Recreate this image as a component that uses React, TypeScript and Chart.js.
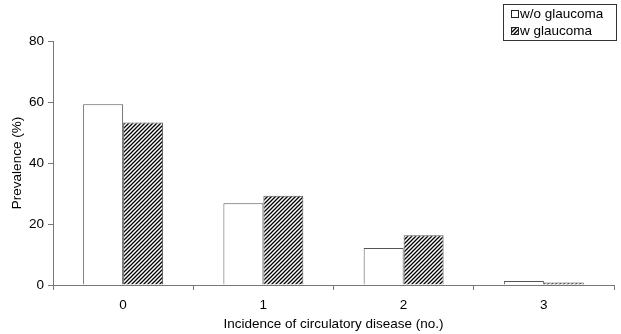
import React, { useEffect, useRef } from "react";
import { Chart, registerables } from "chart.js";

Chart.register(...registerables);

const categories = ["0", "1", "2", "3"];
const withoutGlaucoma = [59.3, 26.8, 12.1, 1.3];
const withGlaucoma = [53.3, 29.3, 16.3, 0.8];
const seriesLabels = ["w/o glaucoma", "w glaucoma"];
const yTicks = [0, 20, 40, 60, 80];

const FONT = "'Liberation Sans', Arial, sans-serif";
const FS = 13.5;

function makeHatch(): CanvasPattern | string {
  const c = document.createElement("canvas");
  c.width = 4;
  c.height = 4;
  const g = c.getContext("2d");
  if (!g) return "#555";
  g.fillStyle = "#fff";
  g.fillRect(0, 0, 4, 4);
  g.strokeStyle = "#000";
  g.lineWidth = 1.3;
  g.beginPath();
  g.moveTo(0, 4);
  g.lineTo(4, 0);
  g.moveTo(-1, 1);
  g.lineTo(1, -1);
  g.moveTo(3, 5);
  g.lineTo(5, 3);
  g.stroke();
  const p = g.createPattern(c, "repeat");
  return p || "#555";
}

export default function App() {
  const ref = useRef<HTMLCanvasElement | null>(null);
  useEffect(() => {
    if (!ref.current) return;
    const hatch = makeHatch();
    const legendPlugin = {
      id: "boxLegend",
      afterDraw(chart: any) {
        const ctx = chart.ctx as CanvasRenderingContext2D;
        ctx.save();
        ctx.fillStyle = "#fff";
        ctx.fillRect(503.5, 4.5, 113, 36);
        ctx.strokeStyle = "#333";
        ctx.lineWidth = 1;
        ctx.strokeRect(503.5, 4.5, 113, 36);
        const fills: any[] = ["#fff", hatch];
        ctx.font = `${FS}px ${FONT}`;
        ctx.textBaseline = "middle";
        seriesLabels.forEach((lab, i) => {
          const cy = 14 + i * 17;
          ctx.fillStyle = fills[i];
          ctx.fillRect(511.5, cy - 3.5, 7, 7);
          ctx.strokeStyle = "#222";
          ctx.strokeRect(511.5, cy - 3.5, 7, 7);
          ctx.fillStyle = "#000";
          ctx.fillText(lab, 520, cy + 0.5);
        });
        ctx.restore();
      },
    };
    const chart = new Chart(ref.current, {
      type: "bar",
      data: {
        labels: categories,
        datasets: [
          {
            label: seriesLabels[0],
            data: withoutGlaucoma,
            backgroundColor: "#fff",
            borderColor: "#555",
            borderWidth: 1,
          },
          {
            label: seriesLabels[1],
            data: withGlaucoma,
            backgroundColor: hatch as any,
            borderColor: "#555",
            borderWidth: 1,
          },
        ],
      },
      options: {
        animation: false,
        responsive: false,
        maintainAspectRatio: false,
        layout: { padding: { top: 41, right: 7, left: 0, bottom: 0 } },
        datasets: { bar: { categoryPercentage: 0.57, barPercentage: 1 } },
        plugins: { legend: { display: false }, tooltip: { enabled: false } },
        scales: {
          x: {
            grid: {
              offset: true,
              drawOnChartArea: false,
              drawTicks: true,
              tickLength: 5,
              color: "#777",
            },
            border: { color: "#777", width: 1 },
            ticks: { color: "#000", font: { family: FONT, size: FS }, padding: 7 },
            title: {
              display: true,
              text: "Incidence of circulatory disease (no.)",
              color: "#000",
              font: { family: FONT, size: FS },
              padding: { top: 0, bottom: 2 },
            },
            afterFit(scale: any) {
              scale.height = 49;
            },
          },
          y: {
            min: 0,
            max: 80,
            afterBuildTicks(scale: any) {
              scale.ticks = yTicks.map((v) => ({ value: v }));
            },
            grid: {
              drawOnChartArea: false,
              drawTicks: true,
              tickLength: 5,
              color: "#777",
            },
            border: { color: "#777", width: 1 },
            ticks: { color: "#000", font: { family: FONT, size: FS }, padding: 4 },
            title: {
              display: true,
              text: "Prevalence (%)",
              color: "#000",
              font: { family: FONT, size: FS },
              padding: { top: 9, bottom: 0 },
            },
            afterFit(scale: any) {
              scale.width = 53;
            },
          },
        },
      },
      plugins: [legendPlugin],
    });
    return () => chart.destroy();
  }, []);
  return (
    <div style={{ position: "fixed", left: 0, top: 0, width: 621, height: 334, background: "#fff" }}>
      <canvas ref={ref} width={621} height={334} style={{ width: 621, height: 334 }} />
    </div>
  );
}
